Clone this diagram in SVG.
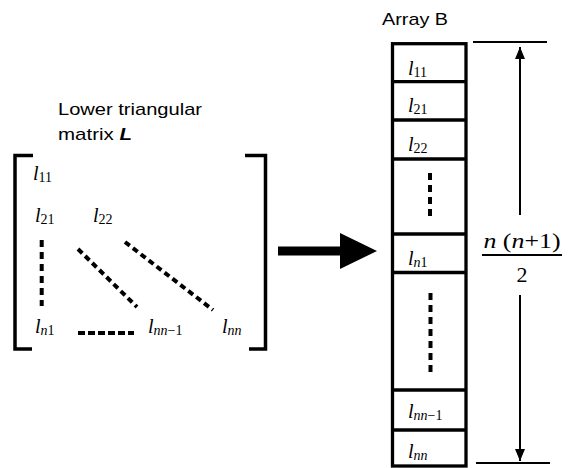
<svg xmlns="http://www.w3.org/2000/svg" width="571" height="468" viewBox="0 0 571 468">
<style>
.t{font-family:"Liberation Sans",Arial,sans-serif;font-size:17px;fill:#000}
.m{font-family:"Liberation Serif","Times New Roman",serif;font-size:20px;font-style:italic;fill:#000}
.s{font-size:14px}
.r{font-style:normal}
.br{fill:none;stroke:#000;stroke-width:3.5}
.cell{fill:none;stroke:#000;stroke-width:3.3}
.dot{stroke:#000;stroke-width:4;fill:none}
.dim{stroke:#000;stroke-width:2;fill:none}
.f{font-family:"Liberation Serif","Times New Roman",serif;font-size:22px;fill:#000}
</style>
<defs>
<marker id="ah" viewBox="0 0 12 10" refX="12" refY="5" markerWidth="12" markerHeight="10" markerUnits="userSpaceOnUse" orient="auto"><path d="M0,0L12,5L0,10Z" fill="#000"/></marker>
</defs>
<g id="matrix-title">
<text class="t" x="58" y="115" textLength="144" lengthAdjust="spacingAndGlyphs">Lower triangular</text>
<text class="t" x="58" y="140" textLength="74" lengthAdjust="spacingAndGlyphs">matrix <tspan font-weight="bold" font-style="italic">L</tspan></text>
</g>
<g id="matrix">
<path class="br" d="M33,155.5H15V349H32"/>
<path class="br" d="M245,155.5H265.5V349H249"/>
<text class="m" x="33" y="180">l<tspan class="s r" dy="2">11</tspan></text>
<text class="m" x="35" y="222">l<tspan class="s r" dy="2">21</tspan></text>
<text class="m" x="93" y="222">l<tspan class="s r" dy="2">22</tspan></text>
<text class="m" x="35" y="333">l<tspan class="s" dy="2">n</tspan><tspan class="s r">1</tspan></text>
<text class="m" x="148" y="333">l<tspan class="s" dy="2">nn</tspan><tspan class="s r">−1</tspan></text>
<text class="m" x="222" y="333">l<tspan class="s" dy="2">nn</tspan></text>
<line class="dot" x1="41.7" y1="240" x2="41.7" y2="306" stroke-dasharray="7 5"/>
<line class="dot" x1="78" y1="333" x2="134" y2="333" stroke-dasharray="7 3"/>
<line class="dot" x1="78" y1="249" x2="137" y2="307" stroke-dasharray="6 4"/>
<line class="dot" x1="125" y1="242" x2="213" y2="310" stroke-dasharray="6 4"/>
</g>
<g id="array-title">
<text class="t" x="382" y="25" textLength="66" lengthAdjust="spacingAndGlyphs">Array B</text>
</g>
<g id="array">
<rect class="cell" x="392.5" y="43.7" width="73.5" height="422.3"/>
<line class="cell" x1="392.5" y1="81.7" x2="466" y2="81.7"/>
<line class="cell" x1="392.5" y1="120" x2="466" y2="120"/>
<line class="cell" x1="392.5" y1="159" x2="466" y2="159"/>
<line class="cell" x1="392.5" y1="234" x2="466" y2="234"/>
<line class="cell" x1="392.5" y1="272.5" x2="466" y2="272.5"/>
<line class="cell" x1="392.5" y1="390" x2="466" y2="390"/>
<line class="cell" x1="392.5" y1="430" x2="466" y2="430"/>
<text class="m" x="408" y="75">l<tspan class="s r" dy="2">11</tspan></text>
<text class="m" x="408" y="112">l<tspan class="s r" dy="2">21</tspan></text>
<text class="m" x="408" y="151">l<tspan class="s r" dy="2">22</tspan></text>
<text class="m" x="408" y="265">l<tspan class="s" dy="2">n</tspan><tspan class="s r">1</tspan></text>
<text class="m" x="408" y="418">l<tspan class="s" dy="2">nn</tspan><tspan class="s r">−1</tspan></text>
<text class="m" x="408" y="458">l<tspan class="s" dy="2">nn</tspan></text>
<line class="dot" x1="430" y1="173" x2="430" y2="221" stroke-dasharray="7 5"/>
<line class="dot" x1="430.5" y1="293" x2="430.5" y2="373" stroke-dasharray="7 5"/>
</g>
<g id="dimension">
<line class="dim" x1="473" y1="42" x2="547" y2="42"/>
<line class="dim" x1="476" y1="463" x2="550" y2="463"/>
<text class="f" x="522" y="248" text-anchor="middle" textLength="77" lengthAdjust="spacingAndGlyphs"><tspan font-style="italic">n</tspan> (<tspan font-style="italic">n</tspan>+1)</text>
<line class="dim" x1="482" y1="255" x2="562" y2="255"/>
<text class="f" x="522" y="282" text-anchor="middle">2</text>
</g>
<g id="connectors">
<line class="dim" x1="520" y1="215" x2="520" y2="47" marker-end="url(#ah)"/>
<line class="dim" x1="520" y1="295" x2="520" y2="461" marker-end="url(#ah)"/>
<path d="M278,246.5H340V233L377,251L340,269V255.5H278Z" fill="#000"/>
</g>
</svg>
